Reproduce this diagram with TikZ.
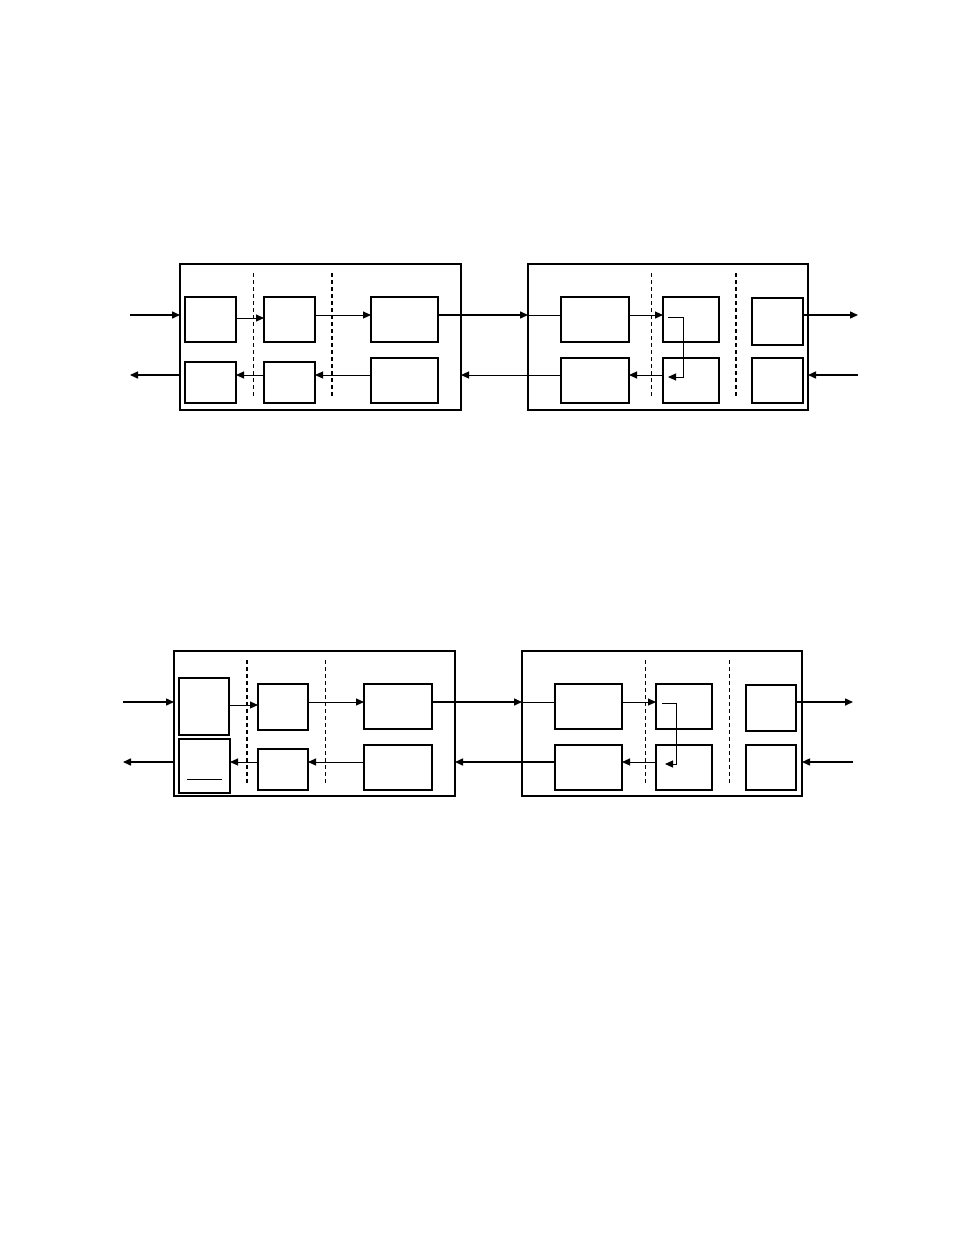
\documentclass[tikz,border=0pt]{standalone}
\usetikzlibrary{arrows.meta}
\begin{document}
\begin{tikzpicture}[x=1pt,y=-1pt,
  frame/.style={draw,line width=1.3pt,minimum width=#1,anchor=north west,inner sep=0pt,outer sep=0pt},
  blk/.style={draw,line width=1.1pt,anchor=north west,inner sep=0pt,outer sep=0pt},
  arr/.style={line width=1.5pt,-{Triangle[length=8pt,width=7pt]}},
  thin arr/.style={line width=1pt,-{Triangle[length=8pt,width=7pt]}},
  sep thin/.style={line width=0.9pt,dash pattern=on 4pt off 3pt},
  sep thick/.style={line width=1.7pt,dash pattern=on 4pt off 3pt}]
\useasboundingbox (0,0) rectangle (954,1235);
\newcommand{\bx}[5]{\node[blk,minimum width=#4,minimum height=#5] (#1) at (#2,#3) {};}
% ===== top diagram =====
\node[frame=281pt,minimum height=146pt] (L1) at (180,264) {};
\node[frame=280pt,minimum height=146pt] (R1) at (528,264) {};
\draw[sep thin] (253,273) -- (253,398);
\draw[sep thick] (332,273) -- (332,398);
\draw[sep thin] (651,273) -- (651,398);
\draw[sep thick] (736,273) -- (736,398);
\bx{A1}{185}{297}{51}{45}
\bx{A2}{264}{297}{51}{45}
\bx{A3}{371}{297}{67}{45}
\bx{B1}{185}{362}{51}{41}
\bx{B2}{264}{362}{51}{41}
\bx{B3}{371}{358}{67}{45}
\bx{C1}{561}{297}{68}{45}
\bx{C2}{663}{297}{56}{45}
\bx{C3}{752}{298}{51}{47}
\bx{D1}{561}{358}{68}{45}
\bx{D2}{663}{358}{56}{45}
\bx{D3}{752}{358}{51}{45}
\coordinate (in1) at (130,315);
\coordinate (out1) at (130,375);
\coordinate (in1r) at (858,375);
\coordinate (out1r) at (858,315);
\draw[arr] (in1) -- (L1.west |- in1);
\draw[arr] (L1.west |- out1) -- (out1);
\draw[thin arr] (A1.east |- 0,318) -- (A2.west |- 0,318);
\draw[thin arr] (A2.east |- 0,315) -- (A3.west |- 0,315);
\draw[arr] (A3.east |- 0,315) -- (R1.west |- 0,315);
\draw[line width=1pt] (R1.west |- 0,315) -- (C1.west |- 0,315);
\draw[thin arr] (B2.west |- 0,375) -- (B1.east |- 0,375);
\draw[thin arr] (B3.west |- 0,375) -- (B2.east |- 0,375);
\draw[thin arr] (D1.west |- 0,375) -- (L1.east |- 0,375);
\draw[thin arr] (C1.east |- 0,315) -- (C2.west |- 0,315);
\draw[thin arr] (668,317) -- (683,317) -- (683,377) -- (668,377);
\draw[thin arr] (D2.west |- 0,375) -- (D1.east |- 0,375);
\draw[arr] (C3.east |- out1r) -- (out1r);
\draw[arr] (in1r) -- (R1.east |- in1r);
% ===== bottom diagram =====
\node[frame=281pt,minimum height=145pt] (L2) at (174,651) {};
\node[frame=280pt,minimum height=145pt] (R2) at (522,651) {};
\draw[sep thick] (247,660) -- (247,785);
\draw[sep thin] (325,660) -- (325,785);
\draw[sep thin] (645,660) -- (645,785);
\draw[sep thin] (729,660) -- (729,785);
\bx{E1}{179}{678}{50}{57}
\bx{E2}{258}{684}{50}{46}
\bx{E3}{364}{684}{68}{45}
\bx{F1}{179}{739}{51}{54}
\bx{F2}{258}{749}{50}{41}
\bx{F3}{364}{745}{68}{45}
\draw[line width=1pt] (187,779) -- (222,779);
\bx{G1}{555}{684}{67}{45}
\bx{G2}{656}{684}{56}{45}
\bx{G3}{746}{685}{50}{46}
\bx{H1}{555}{745}{67}{45}
\bx{H2}{656}{745}{56}{45}
\bx{H3}{746}{745}{50}{45}
\coordinate (in2) at (123,702);
\coordinate (out2) at (123,762);
\coordinate (in2r) at (853,762);
\coordinate (out2r) at (853,702);
\draw[arr] (in2) -- (L2.west |- in2);
\draw[arr] (L2.west |- out2) -- (out2);
\draw[thin arr] (E1.east |- 0,705) -- (E2.west |- 0,705);
\draw[thin arr] (E2.east |- 0,702) -- (E3.west |- 0,702);
\draw[arr] (E3.east |- 0,702) -- (R2.west |- 0,702);
\draw[line width=1pt] (R2.west |- 0,702) -- (G1.west |- 0,702);
\draw[thin arr] (F2.west |- 0,762) -- (F1.east |- 0,762);
\draw[thin arr] (F3.west |- 0,762) -- (F2.east |- 0,762);
\draw[arr] (H1.west |- 0,762) -- (L2.east |- 0,762);
\draw[thin arr] (G1.east |- 0,702) -- (G2.west |- 0,702);
\draw[thin arr] (662,703) -- (676,703) -- (676,764) -- (665,764);
\draw[thin arr] (H2.west |- 0,762) -- (H1.east |- 0,762);
\draw[arr] (G3.east |- out2r) -- (out2r);
\draw[arr] (in2r) -- (R2.east |- in2r);
\end{tikzpicture}
\end{document}
